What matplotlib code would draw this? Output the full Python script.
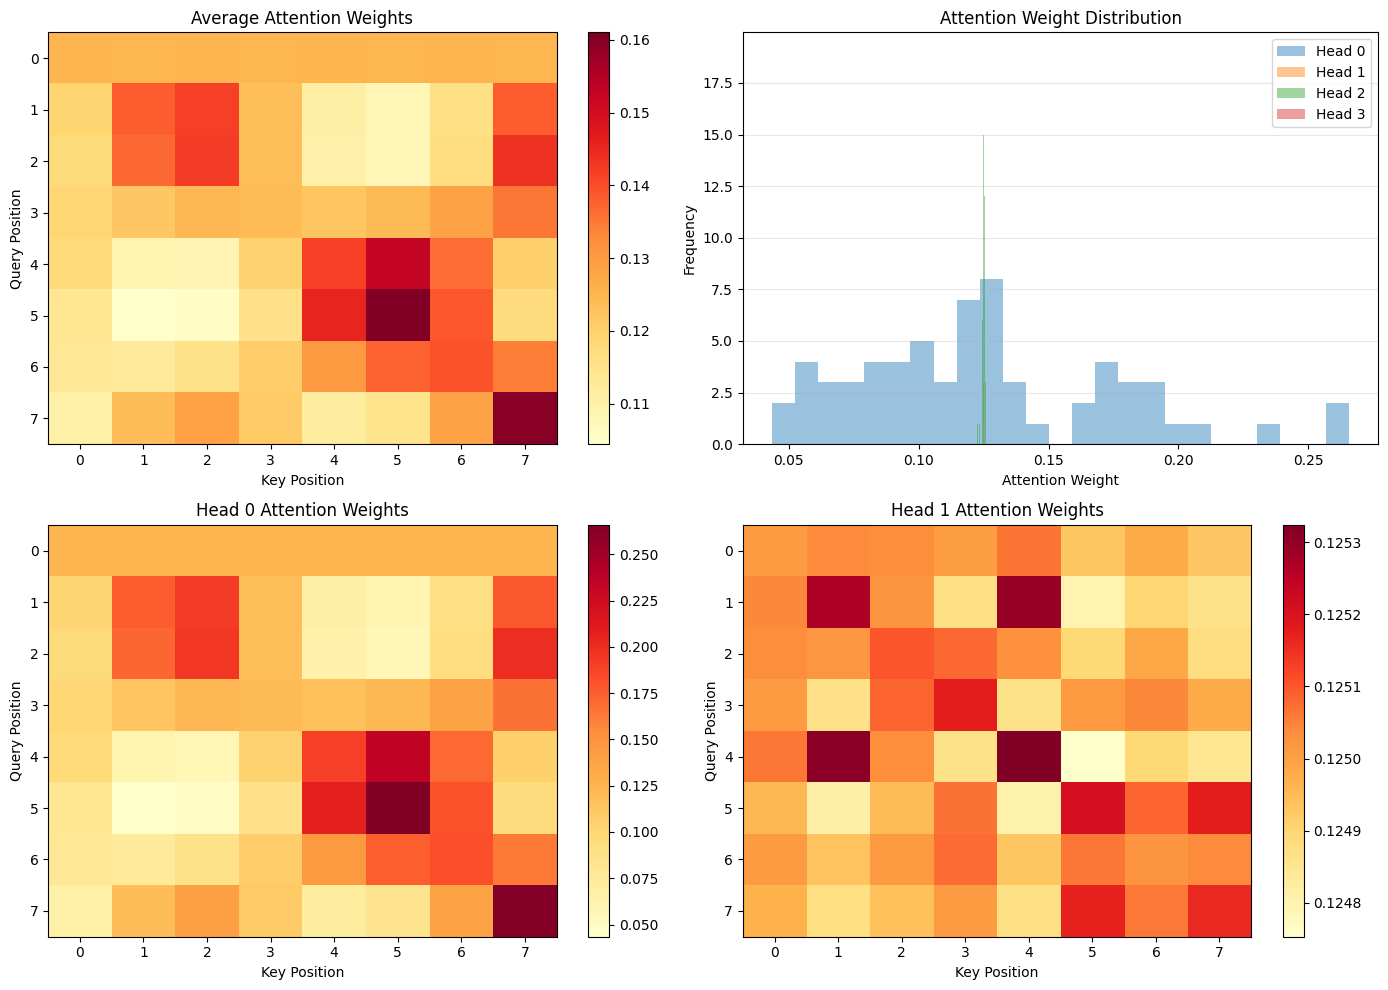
import numpy as np
import matplotlib
matplotlib.use("Agg")
import matplotlib.pyplot as plt

positions = list(range(8))
head_names = ["Head 0", "Head 1", "Head 2", "Head 3"]

head0 = [
    [0.125, 0.125, 0.125, 0.125, 0.125, 0.125, 0.125, 0.125],
    [0.102, 0.176, 0.192, 0.118, 0.068, 0.060, 0.090, 0.178],
    [0.096, 0.172, 0.194, 0.118, 0.065, 0.057, 0.092, 0.199],
    [0.100, 0.113, 0.123, 0.121, 0.116, 0.122, 0.139, 0.166],
    [0.098, 0.061, 0.059, 0.104, 0.190, 0.235, 0.170, 0.105],
    [0.080, 0.0434, 0.047, 0.087, 0.207, 0.2659, 0.180, 0.094],
    [0.078, 0.075, 0.086, 0.108, 0.145, 0.175, 0.182, 0.163],
    [0.066, 0.119, 0.140, 0.110, 0.072, 0.083, 0.138, 0.264],
]

head1 = [
    [0.125010, 0.125039, 0.125035, 0.125005, 0.125067, 0.124930, 0.124982, 0.124928],
    [0.125045, 0.125267, 0.125025, 0.124867, 0.125295, 0.124800, 0.124900, 0.124862],
    [0.125035, 0.125020, 0.125102, 0.125080, 0.125030, 0.124895, 0.124985, 0.124880],
    [0.125010, 0.124865, 0.125085, 0.125175, 0.124862, 0.125015, 0.125045, 0.124980],
    [0.125065, 0.125310, 0.125035, 0.124863, 0.125324, 0.124753, 0.124895, 0.124845],
    [0.124955, 0.124815, 0.124950, 0.125068, 0.124805, 0.125210, 0.125085, 0.125175],
    [0.125010, 0.124935, 0.125015, 0.125075, 0.124930, 0.125065, 0.125025, 0.125040],
    [0.124965, 0.124875, 0.124940, 0.125010, 0.124870, 0.125170, 0.125062, 0.125160],
]

head2 = [
    [0.12578, 0.12488, 0.12523, 0.12466, 0.12510, 0.12494, 0.12537, 0.12481],
    [0.12545, 0.12640, 0.12499, 0.12528, 0.12484, 0.12260, 0.12457, 0.12506],
    [0.12490, 0.12513, 0.12438, 0.12531, 0.12548, 0.12478, 0.12502, 0.12501],
    [0.12521, 0.12469, 0.12495, 0.12509, 0.12330, 0.12486, 0.12554, 0.12515],
    [0.12483, 0.12535, 0.12460, 0.12500, 0.12524, 0.12526, 0.12491, 0.12543],
    [0.12507, 0.12444, 0.12565, 0.12493, 0.12517, 0.12800, 0.12480, 0.12557],
    [0.12529, 0.12489, 0.12505, 0.12473, 0.12539, 0.12497, 0.12512, 0.12450],
    [0.12487, 0.12560, 0.12520, 0.12503, 0.12463, 0.12551, 0.12571, 0.12533],
]

head3 = [
    [0.125, 0.125, 0.125, 0.125, 0.125, 0.125, 0.125, 0.125],
    [0.124992, 0.125006, 0.125, 0.124988, 0.125012, 0.125, 0.124997, 0.125005],
    [0.125003, 0.125, 0.124994, 0.125009, 0.125, 0.124986, 0.125015, 0.124993],
    [0.125, 0.124990, 0.125007, 0.125, 0.124996, 0.125011, 0.124998, 0.125017],
    [0.125020, 0.125, 0.124989, 0.125004, 0.125, 0.124985, 0.125008, 0.124995],
    [0.124998, 0.125013, 0.125, 0.124991, 0.125006, 0.125, 0.124987, 0.125002],
    [0.125, 0.124995, 0.125010, 0.124997, 0.124992, 0.125003, 0.125014, 0.125001],
    [0.125018, 0.124991, 0.125005, 0.124994, 0.125009, 0.124988, 0.125002, 0.124996],
]

heads = [np.array(h) for h in (head0, head1, head2, head3)]
avg = np.mean(np.stack(heads), axis=0)

fig, axes = plt.subplots(2, 2, figsize=(14, 10), dpi=100)


def heat(ax, data, title, plain=False):
    im = ax.imshow(data, cmap="YlOrRd", aspect="auto")
    ax.set_title(title)
    ax.set_xlabel("Key Position")
    ax.set_ylabel("Query Position")
    ax.set_xticks(positions)
    ax.set_yticks(positions)
    cb = fig.colorbar(im, ax=ax)
    if plain:
        cb.formatter.set_useOffset(False)
        cb.update_ticks()
    return im


heat(axes[0, 0], avg, "Average Attention Weights")

axh = axes[0, 1]
for h, name in zip(heads, head_names):
    axh.hist(h.flatten(), bins=25, alpha=0.45, label=name)
axh.set_title("Attention Weight Distribution")
axh.set_xlabel("Attention Weight")
axh.set_ylabel("Frequency")
axh.legend(loc="upper right")
axh.grid(True, axis="y", alpha=0.3)

heat(axes[1, 0], heads[0], "Head 0 Attention Weights")
heat(axes[1, 1], heads[1], "Head 1 Attention Weights", plain=True)

plt.tight_layout()
fig.savefig("out.png", dpi=100, bbox_inches="tight")
